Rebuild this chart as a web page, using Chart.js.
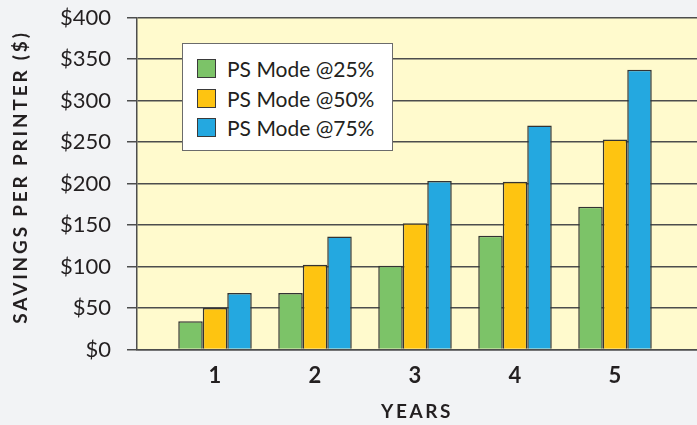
<!DOCTYPE html>
<html>
<head>
<meta charset="utf-8">
<script src="https://cdn.jsdelivr.net/npm/chart.js@4.4.1/dist/chart.umd.min.js"></script>
<style>
  html, body { margin: 0; padding: 0; background: #f2f3f5; }
  #wrap { position: relative; width: 697px; height: 425px; }
  #legend {
    position: absolute; left: 182px; top: 43px; width: 209px; height: 106px;
    background: #fff; border: 1px solid #6b6b6b; box-sizing: content-box;
    font-family: Lato, sans-serif; font-size: 21px; color: #231f20;
  }
  #legend .item { position: absolute; left: 14px; height: 20px; line-height: 20px; white-space: nowrap; }
  #legend .sw { display: inline-block; width: 17px; height: 17px; border: 1.5px solid #3a3a3a;
    vertical-align: top; margin-top: 0px; margin-right: 11px; }
</style>
</head>
<body>
<div id="wrap">
  <canvas id="chart" width="697" height="425"></canvas>
  <div id="legend"></div>
</div>
<script>
// chart data
const years    = [1, 2, 3, 4, 5];
const mode25   = [34, 68, 101, 137, 172];
const mode50   = [50, 102, 152, 202, 253];
const mode75   = [68, 136, 203, 270, 337];
const seriesNames = ['PS Mode @25%', 'PS Mode @50%', 'PS Mode @75%'];
const yTicks   = [0, 50, 100, 150, 200, 250, 300, 350, 400];

const COLORS = ['#7cc368', '#fec411', '#24a8e0'];
const INK = '#231f20';
const GRID = '#4d4d4d';

const toPoints = vals => vals.map((v, i) => ({ x: years[i], y: v }));

// yellow plot background
const plotBg = {
  id: 'plotBg',
  beforeDraw(chart) {
    const { ctx, chartArea: a } = chart;
    ctx.save();
    ctx.fillStyle = '#fffacd';
    ctx.fillRect(a.left, a.top, a.right - a.left, a.bottom - a.top);
    ctx.restore();
  }
};

// spaced axis titles
const axisTitles = {
  id: 'axisTitles',
  afterDraw(chart) {
    const { ctx, chartArea: a } = chart;
    ctx.save();
    ctx.fillStyle = INK;
    ctx.textAlign = 'center';
    ctx.textBaseline = 'middle';
    ctx.font = 'bold 19px Lato';
    ctx.letterSpacing = '2.6px';
    ctx.fillText('YEARS', (a.left + a.right) / 2, 412);
    ctx.translate(21, 177);
    ctx.rotate(-Math.PI / 2);
    ctx.letterSpacing = '2.8px';
    ctx.fillText('SAVINGS PER PRINTER ($)', 0, 0);
    ctx.restore();
  }
};

const chart = new Chart(document.getElementById('chart'), {
  type: 'bar',
  data: {
    datasets: [mode25, mode50, mode75].map((vals, i) => ({
      label: seriesNames[i],
      data: toPoints(vals),
      backgroundColor: COLORS[i],
      borderColor: '#333333',
      borderWidth: 1.5,
      categoryPercentage: 0.735,
      barPercentage: 1.0
    }))
  },
  options: {
    responsive: false,
    animation: false,
    layout: { padding: { top: 17.5, right: 0, left: 0, bottom: 0 } },
    plugins: { legend: { display: false }, tooltip: { enabled: false } },
    scales: {
      x: {
        type: 'linear',
        offset: false,
        min: 0.22,
        max: 5.82,
        afterFit: s => { s.height = 75.5; s.paddingLeft = 0; s.paddingRight = 0; },
        grid: { display: false },
        border: { display: true, color: GRID, width: 1.5 },
        ticks: {
          stepSize: 1,
          includeBounds: false,
          color: INK,
          padding: 5,
          font: { family: 'Lato', size: 22, weight: 'bold' }
        }
      },
      y: {
        min: 0,
        max: 400,
        afterFit: s => { s.width = 137; s.paddingTop = 0; s.paddingBottom = 0; },
        afterBuildTicks: s => { s.ticks = yTicks.map(v => ({ value: v })); },
        grid: { color: GRID, lineWidth: 1.5, tickLength: 10 },
        border: { display: true, color: GRID, width: 1.5 },
        ticks: {
          color: INK,
          padding: 16,
          font: { family: 'Lato', size: 22 },
          callback: v => '$' + v
        }
      }
    }
  },
  plugins: [plotBg, axisTitles]
});

// HTML legend built from the datasets
const legendEl = document.getElementById('legend');
chart.data.datasets.forEach((ds, i) => {
  const item = document.createElement('div');
  item.className = 'item';
  item.style.top = (15 + i * 29.5) + 'px';
  const sw = document.createElement('span');
  sw.className = 'sw';
  sw.style.background = ds.backgroundColor;
  item.appendChild(sw);
  item.appendChild(document.createTextNode(ds.label));
  legendEl.appendChild(item);
});
</script>
</body>
</html>
